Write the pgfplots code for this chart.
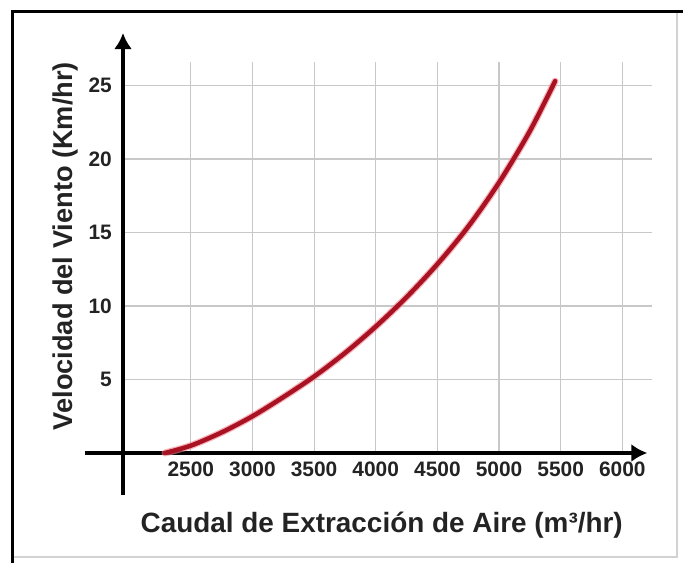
\documentclass[border=0pt]{standalone}
\usepackage{pgfplots}
\pgfplotsset{compat=1.18}
\usepackage{pgfplotstable}
\usetikzlibrary{arrows.meta}
\usepackage{fontspec}
\setmainfont{Liberation Sans}
\definecolor{curvec}{RGB}{168,18,34}
\definecolor{haloc}{RGB}{240,130,140}
\definecolor{gridc}{RGB}{200,200,200}
\definecolor{txt}{RGB}{35,35,35}
\pgfplotstableread{
x y
2290 0
2500 0.5
2750 1.4
3000 2.5
3250 3.8
3500 5.2
3750 6.8
4000 8.6
4250 10.6
4500 12.85
4750 15.4
5000 18.4
5250 21.9
5455 25.3
}\curvedata
\begin{document}
\begin{tikzpicture}[x=1bp,y=1bp]
\path[use as bounding box] (0,0) rectangle (683,563);
\draw[gray!35, line width=1.5bp] (12,6) rectangle (677,551);
\draw[black, line width=3bp] (12,0) -- (12,551) -- (683,551);
\begin{axis}[
 at={(123bp,110bp)}, anchor=south west,
 scale only axis, width=529.4bp, height=391bp,
 xmin=1950, xmax=6244, ymin=0, ymax=26.6,
 clip=false,
 axis line style={draw=none},
 major tick length=0pt,
 xtick={2500,3000,3500,4000,4500,5000,5500,6000},
 xticklabels={2500,3000,3500,4000,4500,5000,5500,6000},
 ytick={5,10,15,20,25},
 yticklabels={5,10,15,20,25},
 grid=major, grid style={gridc, line width=1.2bp},
 ticklabel style={font=\bfseries\fontsize{21}{24}\selectfont, text=txt, inner sep=0pt},
 xticklabel style={anchor=base, yshift=-24bp},
 yticklabel style={anchor=east, xshift=-11bp},
 xlabel={Caudal de Extracción de Aire (m³/hr)},
 xlabel style={at={(axis description cs:0.4887,-0.2046)}, anchor=base, font=\bfseries\fontsize{28}{32}\selectfont, text=txt, inner sep=0pt},
 ylabel={Velocidad del Viento (Km/hr)},
 ylabel style={at={(axis description cs:-0.0962,0.529)}, anchor=base, rotate=0, font=\bfseries\fontsize{27.3}{31}\selectfont, text=txt, inner sep=0pt},
]
\draw[black, line width=4bp, -{Latex[length=16bp,width=18bp]}] (axis cs:1641,0) -- (axis cs:6203,0);
\draw[black, line width=4bp, -{Latex[length=16bp,width=18bp]}] (axis cs:1950,-2.86) -- (axis cs:1950,28.57);
\addplot[haloc, opacity=0.6, line width=7bp, smooth, line cap=round] table[x=x,y=y] {\curvedata};
\addplot[curvec, line width=4.5bp, smooth, line cap=round] table[x=x,y=y] {\curvedata};
\end{axis}
\end{tikzpicture}
\end{document}
